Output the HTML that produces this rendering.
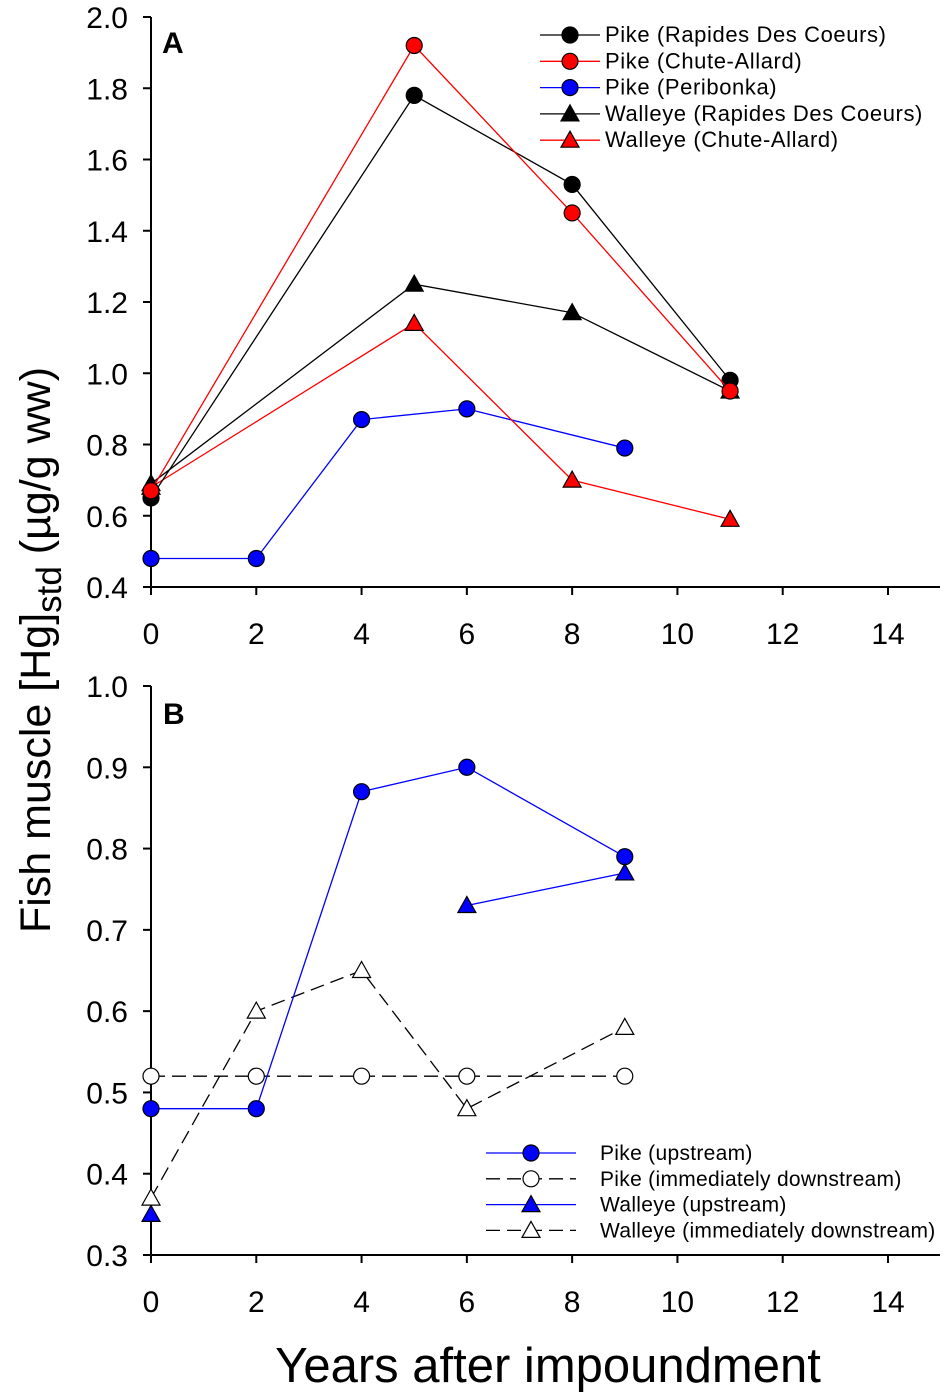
<!DOCTYPE html>
<html><head><meta charset="utf-8"><style>
body{margin:0;background:#fff;}
svg{display:block;font-family:"Liberation Sans",sans-serif;}
</style></head><body>
<svg id="chart" width="950" height="1398" viewBox="0 0 950 1398" xmlns="http://www.w3.org/2000/svg"></svg>
<script>
const xTicks=[0,2,4,6,8,10,12,14];
const yTicksA=[0.4,0.6,0.8,1.0,1.2,1.4,1.6,1.8,2.0];
const yTicksB=[0.3,0.4,0.5,0.6,0.7,0.8,0.9,1.0];
const aPikeRdcX=[0,5,8,11], aPikeRdcY=[0.65,1.78,1.53,0.98];
const aPikeCaX=[0,5,8,11], aPikeCaY=[0.67,1.92,1.45,0.95];
const aPikePerX=[0,2,4,6,9], aPikePerY=[0.48,0.48,0.87,0.90,0.79];
const aWalRdcX=[0,5,8,11], aWalRdcY=[0.69,1.25,1.17,0.95];
const aWalCaX=[0,5,8,11], aWalCaY=[0.68,1.14,0.70,0.59];
const bPikeUpX=[0,2,4,6,9], bPikeUpY=[0.48,0.48,0.87,0.90,0.79];
const bPikeDnX=[0,2,4,6,9], bPikeDnY=[0.52,0.52,0.52,0.52,0.52];
const bWalUpX=[0,6,9], bWalUpY=[0.35,0.73,0.77];
const bWalDnX=[0,2,4,6,9], bWalDnY=[0.37,0.60,0.65,0.48,0.58];

const NS="http://www.w3.org/2000/svg";
const svg=document.getElementById('chart');
function el(t,a,p){const e=document.createElementNS(NS,t);for(const k in a)e.setAttribute(k,a[k]);(p||svg).appendChild(e);return e;}
const X=v=>151+v*(888-151)/14;
const YA=v=>587-(v-0.4)*(570/1.6);
const YB=v=>1255-(v-0.3)*(569/0.7);

function axes(Y,top,bottom,yt,fmt,name){
  const g=el('g',{});
  
  
  el('line',{x1:151,y1:top,x2:151,y2:bottom,stroke:'#000','stroke-width':2},g);
  el('line',{x1:151,y1:bottom,x2:940,y2:bottom,stroke:'#000','stroke-width':2},g);
  yt.forEach(v=>{el('line',{x1:143,y1:Y(v),x2:151,y2:Y(v),stroke:'#000','stroke-width':2},g);
    const t=el('text',{x:128,y:Y(v)+11,'text-anchor':'end','font-size':30},g);t.textContent=fmt(v);
    });
  xTicks.forEach(v=>{el('line',{x1:X(v),y1:bottom,x2:X(v),y2:bottom+8,stroke:'#000','stroke-width':2},g);
    const t=el('text',{x:X(v),y:bottom+57,'text-anchor':'middle','font-size':30},g);t.textContent=v;
    });
}
axes(YA,17,587,yTicksA,v=>v.toFixed(1),'panel-a');
axes(YB,686,1255,yTicksB,v=>v.toFixed(1),'panel-b');

function marker(g,shape,x,y,fill){
  if(shape==='c') return el('circle',{cx:x,cy:y,r:8,fill:fill,stroke:'#000','stroke-width':1.2},g);
  return el('polygon',{points:`${x},${y-9} ${x+9},${y+7} ${x-9},${y+7}`,fill:fill,stroke:'#000','stroke-width':1.2},g);
}
function series(xs,ys,Y,color,shape,fill,dash,name,lineFrom){
  const g=el('g',{});
  
  
  const s=lineFrom||0;
  const pts=xs.slice(s).map((x,i)=>X(x)+','+Y(ys[i+s])).join(' ');
  const l=el('polyline',{points:pts,fill:'none',stroke:color,'stroke-width':1.3},g);
  if(dash)l.setAttribute('stroke-dasharray','14,7');
  xs.forEach((x,i)=>{const m=marker(g,shape,X(x),Y(ys[i]),fill);
    });
}
series(aPikePerX,aPikePerY,YA,'#0000ff','c','#0000ff',false,'a-pike-peribonka');
series(aWalCaX,aWalCaY,YA,'#ff0000','t','#ff0000',false,'a-walleye-chute-allard');
series(aWalRdcX,aWalRdcY,YA,'#000','t','#000',false,'a-walleye-rdc');
series(aPikeRdcX,aPikeRdcY,YA,'#000','c','#000',false,'a-pike-rdc');
series(aPikeCaX,aPikeCaY,YA,'#ff0000','c','#ff0000',false,'a-pike-chute-allard');

series(bPikeDnX,bPikeDnY,YB,'#000','c','#fff',true,'b-pike-downstream');
series(bWalDnX,bWalDnY,YB,'#000','t','#fff',true,'b-walleye-downstream');
series(bPikeUpX,bPikeUpY,YB,'#0000ff','c','#0000ff',false,'b-pike-upstream');
series(bWalUpX,bWalUpY,YB,'#0000ff','t','#0000ff',false,'b-walleye-upstream',1);

function legend(items,x1,x2,tx,y0,dy,fs,name,ls){
  const g=el('g',{});
  
  
  items.forEach((it,i)=>{const y=y0+i*dy;
    const l=el('line',{x1:x1,y1:y,x2:x2,y2:y,stroke:it[1],'stroke-width':1.3},g);
    if(it[4])l.setAttribute('stroke-dasharray','14,7');
    marker(g,it[2],(x1+x2)/2,y,it[3]);
    const t=el('text',{x:tx,y:y+7,'font-size':fs,'letter-spacing':ls},g);t.textContent=it[0];
    });
}
legend([['Pike (Rapides Des Coeurs)','#000','c','#000'],['Pike (Chute-Allard)','#ff0000','c','#ff0000'],['Pike (Peribonka)','#0000ff','c','#0000ff'],['Walleye (Rapides Des Coeurs)','#000','t','#000'],['Walleye (Chute-Allard)','#ff0000','t','#ff0000']],540,600,605,35,26.3,22,'legend-a',0.6);
legend([['Pike (upstream)','#0000ff','c','#0000ff'],['Pike (immediately downstream)','#000','c','#fff',true],['Walleye (upstream)','#0000ff','t','#0000ff'],['Walleye (immediately downstream)','#000','t','#fff',true]],486,576,600,1153,25.8,21,'legend-b',0.3);

let t=el('text',{x:162,y:53,'font-size':30,'font-weight':'bold'});t.textContent='A';

t=el('text',{x:163,y:724,'font-size':30,'font-weight':'bold'});t.textContent='B';

t=el('text',{x:548,y:1382,'text-anchor':'middle','font-size':49});t.textContent='Years after impoundment';

t=el('text',{x:0,y:0,'text-anchor':'middle','font-size':43,transform:'translate(50,650) rotate(-90)'});

t.innerHTML='Fish muscle [Hg]<tspan dy="11" font-size="35">std</tspan><tspan dy="-11"> (µg/g ww)</tspan>';
</script>
</body></html>
